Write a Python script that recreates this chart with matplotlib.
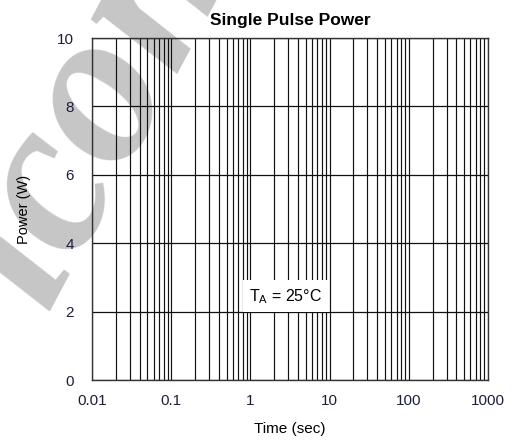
import matplotlib.pyplot as plt
from matplotlib.ticker import LogLocator, NullFormatter

# chart content
x_ticks = [0.01, 0.1, 1, 10, 100, 1000]
x_labels = ['0.01', '0.1', '1', '10', '100', '1000']
y_ticks = [0, 2, 4, 6, 8, 10]
note_x, note_y = 2.8, 2.45
note = 'T$_\\mathregular{A}$ = 25°C'

plt.rcParams['font.family'] = ['Liberation Sans', 'DejaVu Sans']

fig = plt.figure(figsize=(5.18, 4.41), dpi=100)

# watermark, drawn under everything else
fig.text(0.175, 0.745, 'icon', fontsize=160, family='Liberation Serif', style='italic',
         fontweight='bold', color='#c6c6c6', rotation=62, ha='center', va='center',
         zorder=-5)

ax = fig.add_axes([92 / 518, 1 - 380 / 441, 396 / 518, 342 / 441])
ax.set_facecolor('none')
ax.set_xscale('log')
ax.set_xlim(0.01, 1000)
ax.set_ylim(0, 10)

ax.set_xticks(x_ticks)
ax.set_xticklabels(x_labels)
ax.xaxis.set_minor_locator(LogLocator(base=10, subs=range(2, 10)))
ax.xaxis.set_minor_formatter(NullFormatter())
ax.set_yticks(y_ticks)

ax.grid(True, which='both', axis='x', color='#111111', linewidth=0.85)
ax.grid(True, which='major', axis='y', color='#111111', linewidth=0.9)
ax.tick_params(which='both', length=0, labelsize=11, labelcolor='#1c1f3a')
ax.tick_params(axis='x', pad=10)
ax.tick_params(axis='y', pad=13)
for s in ax.spines.values():
    s.set_linewidth(1.0)
    s.set_color('#333333')

ax.set_title('Single Pulse Power', fontsize=12.5, fontweight='bold', pad=9)
ax.set_xlabel('Time (sec)', fontsize=11, labelpad=10)
ax.set_ylabel('Power (W)', fontsize=10.5, labelpad=19)

ax.text(note_x, note_y, note, fontsize=11.5, ha='center', va='center', zorder=5,
        bbox=dict(boxstyle='square,pad=0.4', facecolor='white', edgecolor='none'))

fig.savefig('out.png', dpi=100)
